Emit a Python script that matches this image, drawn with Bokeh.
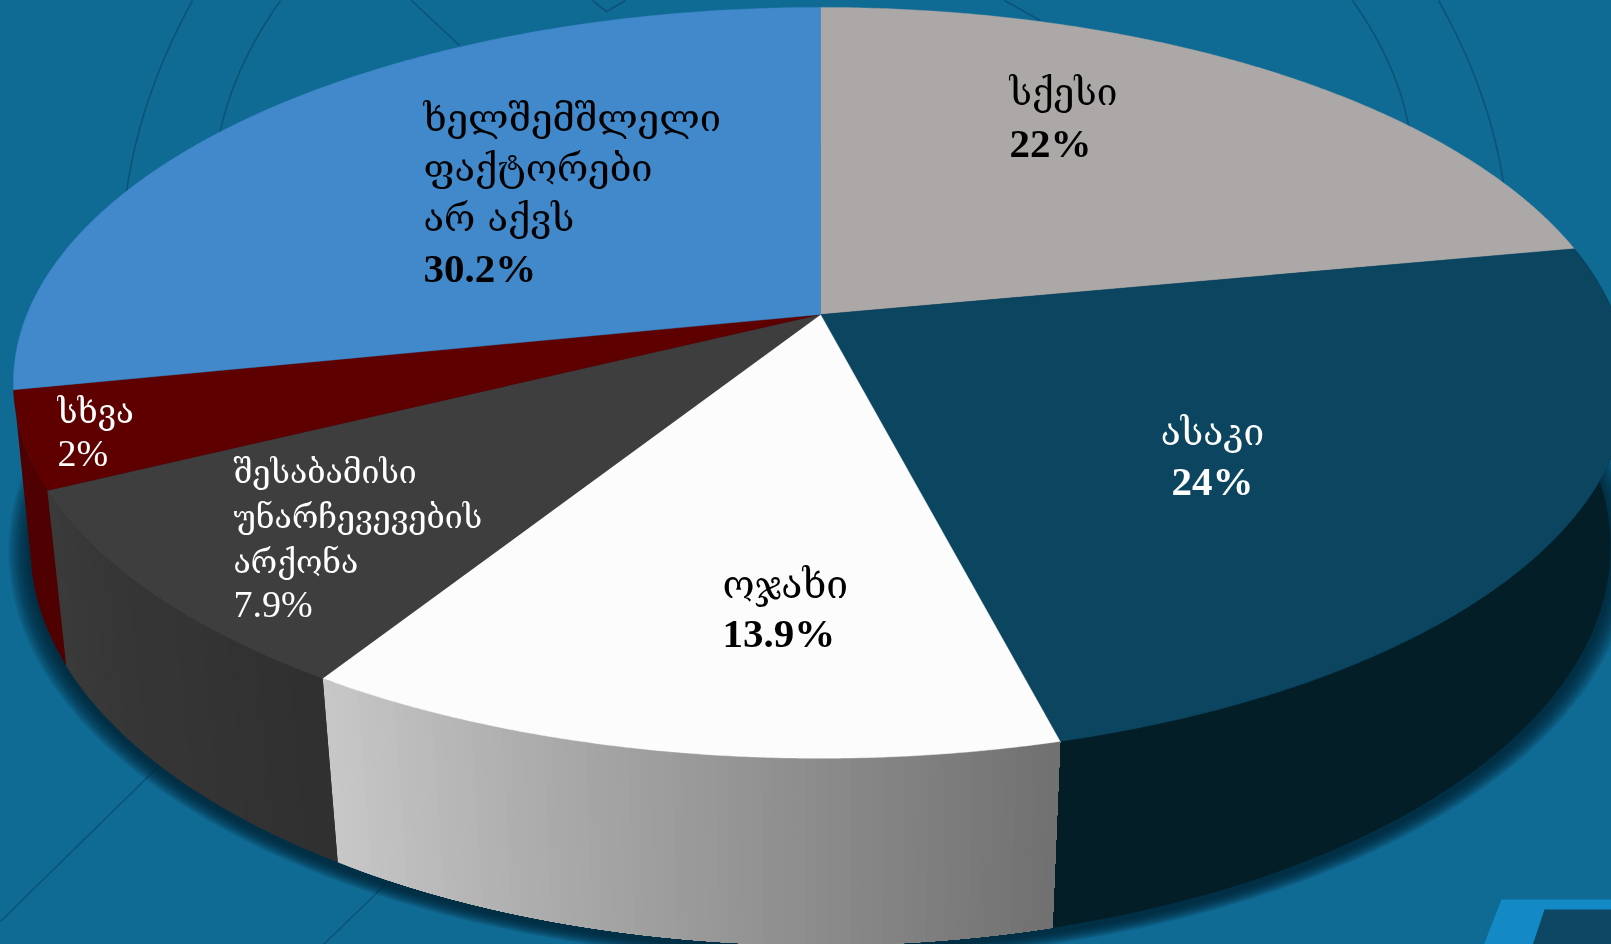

import numpy as np
from bokeh.plotting import figure
from bokeh.embed import file_html
from bokeh.resources import INLINE
from bokeh.core.properties import value

# categories and labels as printed
names = [["სქესი"], ["ასაკი"], ["ოჯახი"], ["შესაბამისი", "უნარჩევევების", "არქონა"], ["სხვა"], ["ხელშემშლელი", "ფაქტორები", "არ აქვს"]]
percent_labels = ["22%", "24%", "13.9%", "7.9%", "2%", "30.2%"]
drawn_shares = [22.0, 24.0, 12.9, 8.75, 4.15, 28.2]
top_colors = ["#aca8a7", "#0b455f", "#fcfcfc", "#3e3e3e", "#5e0000", "#4189cb"]
text_colors = ["black", "white", "black", "white", "white", "black"]
label_x = [1009, 1212, 722, 233, 57, 423]
label_align = ["left", "center", "left", "left", "left", "left"]
label_base = [142, 480, 632, 603, 452, 267]
label_line1 = [92, 432, 584, 471, 411, 117]
label_step = [50, 50, 50, 45, 45, 50]
label_size = [37, 37, 39, 32, 33, 38]
digit_size = [41, 41, 41, 38, 38, 41]
digit_style = ["bold", "bold", "bold", "normal", "normal", "bold"]

W, H = 1611, 944
BG = "#0f6a94"
CX, CY, A, B, K = 820.0, 314.0, 793.6, 363.0, 0.182
EX, EY, ERX, ERY = 820.0, 382.0, 807.0, 375.0
BX, BY, BRX, BRY = 820.0, 546.7, 790.0, 398.0

def top_pt(deg):
    t = np.radians(deg)
    u, v = np.sin(t), np.cos(t)
    d = 1 + K * v
    return CX + A * u / d, CY - B * v / d

def bottom_pt(deg):
    x, y = top_pt(deg)
    nx, ny = (x - EX) / ERX, (y - EY) / ERY
    r = np.hypot(nx, ny)
    nx, ny = nx / r, ny / r
    nx2 = nx * (1 - 0.01 * np.clip(ny, 0, None))
    ny2 = np.sign(ny) * np.sqrt(1 - nx2 ** 2)
    return BX + nx2 * BRX, BY + ny2 * BRY

p = figure(width=W + 2, height=H + 2, x_range=(-1, W + 1), y_range=(H + 1, -1), toolbar_location=None,
           output_backend="svg", min_border=0, background_fill_color=BG, border_fill_color=BG,
           outline_line_color=None, x_axis_location=None, y_axis_location=None)
p.grid.visible = False
p.styles = {"position": "fixed", "left": "-1px", "top": "-1px"}

# background ornaments: (x, y) samples
arcs = [
    ([192, 160, 126], [0, 67, 192]),
    ([280, 243, 220], [0, 63, 130]),
    ([1352, 1387, 1408], [0, 60, 125]),
    ([1438, 1473, 1503], [0, 73, 183]),
]
segments = [
    ([411, 459], [0, 45]),
    ([592, 606, 625], [0, 11, 0]),
    ([1004, 1040], [0, 20]),
    ([158, 0], [766, 921]),
    ([385, 323], [884, 944]),
]
for xs, ys in arcs:
    c = np.polyfit(ys, xs, 2)
    yy = np.linspace(ys[0], ys[2] + 12, 40)
    p.line(np.polyval(c, yy), yy, line_color="#0b5478", line_width=1.6)
for xs, ys in segments:
    p.line(xs, ys, line_color="#0b5478", line_width=1.6)

# bottom right corner shape
p.patch([1501, 1612, 1612, 1483], [899, 899, 945, 945], fill_color="#1389c6", line_color=None)
p.patch([1544, 1612, 1612, 1532], [909, 909, 945, 945], fill_color="#0d4763", line_color=None)

angles = np.concatenate([[0], np.cumsum(drawn_shares) * 3.6])

# soft shadow behind the wall
t = np.linspace(0, 2 * np.pi, 360)
for off in np.arange(22, 0, -2.2):
    p.patch(BX + (BRX + off) * np.cos(t), BY + 4 + (BRY + off * 0.55) * np.sin(t),
            fill_color="#02202e", fill_alpha=0.13, line_color=None)

def wall_strips(a_from, a_to, g0, g1, n):
    """Painter's shading: each strip runs on to the far end, so no seams show."""
    edges = np.linspace(a_from, a_to, n + 1)
    for j in range(n):
        tt = np.linspace(edges[j], a_to, 120)
        x1, y1 = top_pt(tt)
        x2, y2 = bottom_pt(tt)
        col = tuple(int(round(a + (b - a) * (j + 0.5) / n)) for a, b in zip(g0, g1))
        p.patch(np.concatenate([x1, x2[::-1]]), np.concatenate([y1, y2[::-1]]),
                fill_color="#%02x%02x%02x" % col, line_color=None)

# walls
wall_strips(angles[1], angles[2], (4, 30, 40), (4, 30, 40), 1)
wall_strips(angles[3], angles[2], (200, 200, 200), (112, 112, 112), 70)
wall_strips(angles[3], angles[4], (48, 48, 48), (58, 58, 58), 12)
wall_strips(angles[4], angles[5], (79, 0, 0), (79, 0, 0), 1)

# top faces
for i, col in enumerate(top_colors):
    tt = np.linspace(angles[i], angles[i + 1], 200)
    x, y = top_pt(tt)
    p.patch(np.concatenate([[CX], x]), np.concatenate([[CY], y]), fill_color=col, line_color=col, line_width=0.4)

# labels
for i in range(6):
    lines = names[i]
    n = len(lines)
    ys = [label_line1[i] + label_step[i] * k for k in range(n)]
    p.text([label_x[i]] * n, ys, text=lines, text_color=text_colors[i],
           text_font=value("DejaVu Serif"), text_font_size=f"{label_size[i]}px",
           text_align=label_align[i], text_baseline="alphabetic")
    p.text([label_x[i]], [label_base[i]], text=[percent_labels[i]], text_color=text_colors[i],
           text_font=value("Liberation Serif"), text_font_size=f"{digit_size[i]}px",
           text_font_style=digit_style[i], text_align=label_align[i], text_baseline="alphabetic")

open("out.html", "w").write(file_html(p, INLINE))
